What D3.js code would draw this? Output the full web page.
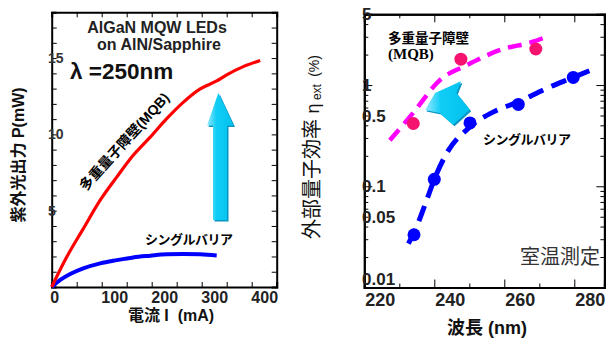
<!DOCTYPE html>
<html>
<head>
<meta charset="utf-8">
<script src="https://cdn.jsdelivr.net/npm/d3@7"></script>
<style>
  body { margin: 0; background: #fff; }
  svg { display: block; font-family: "Liberation Sans", Arial, "Noto Sans CJK JP", sans-serif; }
</style>
</head>
<body>
<div id="chart"></div>
<script>
// left panel: UV output power vs current
var currentMQB = [0, 30, 63, 97, 130, 163, 197, 230, 263, 297, 330, 350, 383, 417];
var powerMQB = [0, 1.96, 3.81, 5.69, 7.2, 8.63, 9.82, 11.03, 12.1, 12.98, 13.5, 13.9, 14.44, 14.84];
var currentSB = [0, 17, 37, 63, 97, 130, 163, 197, 230, 263, 297, 330];
var powerSB = [0, 0.46, 0.85, 1.22, 1.55, 1.76, 1.94, 2.05, 2.14, 2.16, 2.14, 2.07];
var currentLabels = [0, 100, 200, 300, 400];
var powerLabels = [5, 10, 15];

// right panel: external quantum efficiency vs wavelength
var wlMQB = [234.0, 247.6, 269.0];
var effMQB = [0.417, 1.80, 2.27];
var wlSB = [234.2, 240.0, 250.2, 264.0, 279.7];
var effSB = [0.0332, 0.117, 0.423, 0.644, 1.19];
var fitWlMQB = [227.3, 233.9, 241.6, 249.3, 258.8, 268.2, 272.6];
var fitEffMQB = [0.285, 0.528, 1.12, 1.57, 2.22, 2.68, 3.05];
var fitWlSB = [232.6, 234.5, 237.8, 240.0, 243.5, 250.2, 256.9, 264.0, 272.1, 279.7, 285.9];
var fitEffSB = [0.0271, 0.0367, 0.0726, 0.117, 0.211, 0.386, 0.543, 0.682, 0.927, 1.19, 1.46];
var wlLabels = [220, 240, 260, 280];
var effLabels = [0.01, 0.05, 0.1, 0.5, 1, 5];

var svg = d3.select("#chart").append("svg")
  .attr("width", 608)
  .attr("height", 338);

var defs = svg.append("defs");
var grad = defs.append("linearGradient").attr("id", "cyan")
  .attr("x1", "0%").attr("x2", "100%").attr("y1", "0%").attr("y2", "0%");
grad.append("stop").attr("offset", "0%").attr("stop-color", "#9ceaff");
grad.append("stop").attr("offset", "35%").attr("stop-color", "#10cdf5");
grad.append("stop").attr("offset", "100%").attr("stop-color", "#00c2ee");

function zip(xs, ys) {
  return xs.map(function(v, i) { return [v, ys[i]]; });
}

// ---------- left panel ----------
var x1 = d3.scaleLinear().domain([0, 450]).range([51.7, 276.7]);
var y1 = d3.scaleLinear().domain([0, 18]).range([287, 12.3]);

var left = svg.append("g");

left.append("g")
  .attr("transform", "translate(0,287)")
  .call(d3.axisBottom(x1).tickValues(d3.range(0, 451, 50)).tickSize(-5).tickFormat(""));
left.append("g")
  .attr("transform", "translate(0,12.3)")
  .call(d3.axisTop(x1).tickValues(d3.range(0, 451, 50)).tickSize(-5).tickFormat(""));
left.append("g")
  .attr("transform", "translate(51.7,0)")
  .call(d3.axisLeft(y1).ticks(18).tickSize(-5).tickFormat(""));
left.append("g")
  .attr("transform", "translate(276.7,0)")
  .call(d3.axisRight(y1).ticks(18).tickSize(-5).tickFormat(""));
left.selectAll(".domain").attr("stroke", "#000").attr("stroke-width", 2);
left.selectAll(".tick line").attr("stroke", "#000").attr("stroke-width", 1);

// tick labels sit a little right of their ticks in the original
left.selectAll(".xlab")
  .data(currentLabels)
  .enter()
  .append("text")
  .attr("class", "xlab")
  .attr("x", function(d) { return x1(d) + (d === 0 ? 3 : 13); })
  .attr("y", 303)
  .attr("text-anchor", "middle")
  .attr("font-size", 16)
  .attr("font-weight", "bold")
  .attr("fill", "#222")
  .text(function(d) { return d; });

left.selectAll(".ylab")
  .data(powerLabels)
  .enter()
  .append("text")
  .attr("class", "ylab")
  .attr("x", 48)
  .attr("y", function(d) { return y1(d); })
  .attr("dy", "0.36em")
  .attr("font-size", 14)
  .attr("font-weight", "bold")
  .attr("fill", "#333")
  .text(function(d) { return d; });

var line1 = d3.line()
  .x(function(d) { return x1(d[0]); })
  .y(function(d) { return y1(d[1]); })
  .curve(d3.curveMonotoneX);

left.append("path")
  .attr("d", line1(zip(currentSB, powerSB)))
  .attr("fill", "none")
  .attr("stroke", "#0000ff")
  .attr("stroke-width", 4);

left.append("path")
  .attr("d", line1(zip(currentMQB, powerMQB)))
  .attr("fill", "none")
  .attr("stroke", "#ff0000")
  .attr("stroke-width", 3.2);

// up arrow
var upArrow = "M218.3,93 L233.5,125.5 L227,125.5 L227,220 L213,220 L213,125.5 L207,125.5 Z";
left.append("path").attr("d", upArrow).attr("fill", "#0796c4").attr("transform", "translate(1.5,1.5)");
left.append("path").attr("d", upArrow).attr("fill", "url(#cyan)");

left.append("text")
  .attr("x", 157).attr("y", 33)
  .attr("text-anchor", "middle")
  .attr("font-size", 16).attr("font-weight", "bold").attr("fill", "#222")
  .text("AlGaN MQW LEDs");
left.append("text")
  .attr("x", 159).attr("y", 50)
  .attr("text-anchor", "middle")
  .attr("font-size", 16).attr("font-weight", "bold").attr("fill", "#222")
  .text("on AlN/Sapphire");
left.append("text")
  .attr("x", 70).attr("y", 79)
  .attr("font-size", 22.5).attr("font-weight", "bold").attr("fill", "#111")
  .text("λ =250nm");

left.append("text")
  .attr("transform", "translate(128,145) rotate(-48)")
  .attr("text-anchor", "middle")
  .attr("font-size", 14).attr("font-weight", "bold").attr("fill", "#000")
  .text("多重量子障壁(MQB)");

left.append("text")
  .attr("x", 145).attr("y", 244)
  .attr("font-size", 13).attr("font-weight", "bold").attr("fill", "#000")
  .attr("letter-spacing", -0.5)
  .text("シングルバリア");

left.append("text")
  .attr("transform", "translate(23.5,155) rotate(-90)")
  .attr("text-anchor", "middle")
  .attr("font-size", 16).attr("font-weight", "bold").attr("fill", "#111")
  .text("紫外光出力 P(mW)");

left.append("text")
  .attr("x", 171).attr("y", 321)
  .attr("text-anchor", "middle")
  .attr("font-size", 16).attr("font-weight", "bold").attr("fill", "#111")
  .attr("xml:space", "preserve")
  .text("電流 I  (mA)");

// ---------- right panel ----------
var x2 = d3.scaleLinear().domain([220, 288.6]).range([364.3, 604.4]);
var y2 = d3.scaleLog().domain([0.01, 5]).range([287.5, 14.3]);

var right = svg.append("g");

var wlMajor = [220, 240, 260, 280];
var wlMinor = [230, 250, 270];
var effMajor = [0.01, 0.1, 1];
var effMinor = [];
[0.01, 0.1, 1].forEach(function(dec) {
  for (var k = 2; k <= 9; k++) {
    if (dec * k <= 5) effMinor.push(dec * k);
  }
});

function frameAxes(g, major, minor, axisFn, scale, pos, len) {
  g.append("g").attr("transform", pos)
    .call(axisFn(scale).tickValues(major).tickSize(-len).tickFormat(""));
  g.append("g").attr("transform", pos)
    .call(axisFn(scale).tickValues(minor).tickSize(-len / 2).tickFormat(""));
}

frameAxes(right, wlMajor, wlMinor, d3.axisBottom, x2, "translate(0,287.5)", 8);
frameAxes(right, wlMajor, wlMinor, d3.axisTop, x2, "translate(0,14.3)", 8);
frameAxes(right, effMajor, effMinor, d3.axisLeft, y2, "translate(364.3,0)", 8);
frameAxes(right, effMajor, effMinor, d3.axisRight, y2, "translate(604.4,0)", 8);
right.selectAll(".domain").attr("stroke", "#000").attr("stroke-width", 2);
right.selectAll(".tick line").attr("stroke", "#000").attr("stroke-width", 1);

right.selectAll(".xlab")
  .data(wlLabels)
  .enter()
  .append("text")
  .attr("class", "xlab")
  .attr("x", function(d) { return x2(d) + 16; })
  .attr("y", 306)
  .attr("text-anchor", "middle")
  .attr("font-size", 18)
  .attr("font-weight", "bold")
  .attr("fill", "#222")
  .text(function(d) { return d; });

right.selectAll(".ylab")
  .data(effLabels)
  .enter()
  .append("text")
  .attr("class", "ylab")
  .attr("x", 362)
  .attr("y", function(d) { return Math.min(y2(d), 279); })
  .attr("dy", "0.36em")
  .attr("font-size", 17)
  .attr("font-weight", "bold")
  .attr("fill", "#222")
  .text(function(d) { return d; });

var line2 = d3.line()
  .x(function(d) { return x2(d[0]); })
  .y(function(d) { return y2(d[1]); })
  .curve(d3.curveMonotoneX);

right.append("path")
  .attr("d", line2(zip(fitWlMQB, fitEffMQB)))
  .attr("fill", "none")
  .attr("stroke", "#ff00ff")
  .attr("stroke-width", 4.5)
  .attr("stroke-dasharray", "14,8");

right.append("path")
  .attr("d", line2(zip(fitWlSB, fitEffSB)))
  .attr("fill", "none")
  .attr("stroke", "#0000ff")
  .attr("stroke-width", 5)
  .attr("stroke-dasharray", "16,9");

// arrow from single barrier towards MQB
var tiltArrow = "M425,110 L435,93 L461,81.3 L456.3,93 L469.7,109.7 L453,124.7 L439.7,113 Z";
right.append("path").attr("d", tiltArrow).attr("fill", "#0796c4").attr("transform", "translate(1.5,1.5)");
right.append("path").attr("d", tiltArrow).attr("fill", "url(#cyan)");

right.selectAll(".pt-mqb")
  .data(zip(wlMQB, effMQB))
  .enter()
  .append("circle")
  .attr("class", "pt-mqb")
  .attr("cx", function(d) { return x2(d[0]); })
  .attr("cy", function(d) { return y2(d[1]); })
  .attr("r", 6.5)
  .attr("fill", "#f5136f");

right.selectAll(".pt-sb")
  .data(zip(wlSB, effSB))
  .enter()
  .append("circle")
  .attr("class", "pt-sb")
  .attr("cx", function(d) { return x2(d[0]); })
  .attr("cy", function(d) { return y2(d[1]); })
  .attr("r", 6.5)
  .attr("fill", "#0000ff");

right.append("text")
  .attr("x", 388).attr("y", 43)
  .attr("font-size", 13.5).attr("font-weight", "bold").attr("fill", "#000")
  .text("多重量子障壁");
right.append("text")
  .attr("x", 388).attr("y", 59)
  .attr("font-family", "'Liberation Serif', serif")
  .attr("font-size", 15).attr("font-weight", "bold").attr("fill", "#000")
  .text("(MQB)");
right.append("text")
  .attr("x", 483).attr("y", 144)
  .attr("font-size", 13).attr("font-weight", "bold").attr("fill", "#000")
  .attr("letter-spacing", -0.5)
  .text("シングルバリア");
right.append("text")
  .attr("x", 520).attr("y", 264)
  .attr("font-size", 20).attr("fill", "#333")
  .text("室温測定");

var yt = right.append("text")
  .attr("transform", "translate(319,147) rotate(-90)")
  .attr("text-anchor", "middle")
  .attr("fill", "#111")
  .attr("xml:space", "preserve");
yt.append("tspan").attr("font-size", 20).text("外部量子効率 ");
yt.append("tspan").attr("font-size", 18).text("η");
yt.append("tspan").attr("font-size", 12).attr("dy", 2).text(" ext ");
yt.append("tspan").attr("font-size", 14).attr("dy", -2).text(" (%)");

right.append("text")
  .attr("x", 487).attr("y", 334)
  .attr("text-anchor", "middle")
  .attr("font-size", 18).attr("font-weight", "bold").attr("fill", "#111")
  .text("波長 (nm)");
</script>
</body>
</html>
